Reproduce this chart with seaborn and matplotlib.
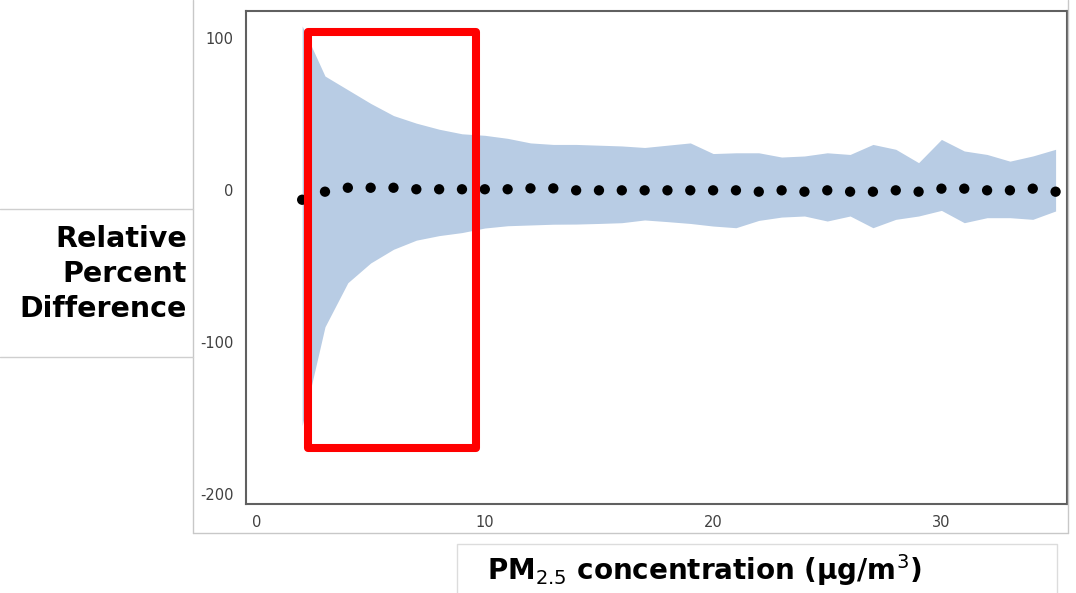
import numpy as np
import pandas as pd
import seaborn as sns
import matplotlib.pyplot as plt
from matplotlib.patches import Rectangle
from matplotlib.lines import Line2D

# PM2.5 concentration (ug/m3)
pm25 = list(range(2, 36))
# mean relative percent difference (black dots)
rpd_mean = [-6.4, -1.1, 1.5, 1.5, 1.5, 0.5, 0.5, 0.5, 0.5,
            0.5, 1.1, 1.1, -0.2, -0.2, -0.2, -0.2, -0.2, -0.2, -0.2,
            -0.2, -1.1, -0.2, -1.1, -0.2, -1.1, -1.1, -0.2, -1.1, 0.9,
            0.9, -0.2, -0.2, 0.9, -1.1, 0.9]
rpd_mean = rpd_mean[:len(pm25)]
# band limits
rpd_upper = [108, 75, 66, 57, 49, 44, 40, 37, 36, 34, 31, 30, 30, 29.5,
             29, 28, 29.5, 31, 24, 24.5, 24.5, 21.7, 22.4, 24.5, 23.4, 30,
             26.8, 18, 33.3, 25.7, 23.4, 19, 22.4, 26.8]
rpd_lower = [-155, -90, -61, -48, -39, -33, -30, -28, -25, -23.5, -23, -22.5,
             -22.4, -22, -21.5, -19.7, -20.8, -22, -23.7, -24.8, -20, -17.8,
             -17.1, -20.4, -17.1, -24.8, -19.3, -17.1, -13.4, -21.5, -18.2,
             -18.2, -19.3, -13.8]

x_ticks = [0, 10, 20, 30]
y_ticks = [-200, -100, 0, 100]

# highlight box (data coords)
BOX_X = (2.26, 9.6)
BOX_Y = (-170, 104)

df = pd.DataFrame({'pm25': pm25, 'rpd': rpd_mean, 'upper': rpd_upper, 'lower': rpd_lower})

sns.set_style('white')
plt.rcParams['axes.unicode_minus'] = False
plt.rcParams['mathtext.fontset'] = 'dejavusans'
W, H = 1076, 593
fig = plt.figure(figsize=(W / 100, H / 100), dpi=100)


def fx(px):
    return px / W


def fy(py):
    return 1 - py / H


ax = fig.add_axes([fx(246), fy(504), fx(1067) - fx(246), fy(11) - fy(504)])

ax.fill_between(df['pm25'], df['lower'], df['upper'], color='#b8cce4', linewidth=0, zorder=1)
sns.scatterplot(data=df, x='pm25', y='rpd', ax=ax, color='black', s=55,
                edgecolor='none', zorder=3)

ax.set_xlim(-0.46, 35.5)
ax.set_ylim(-206.6, 117.8)
ax.set_xticks(x_ticks)
ax.set_yticks(y_ticks)
ax.set_xlabel('')
ax.set_ylabel('')
for s in ax.spines.values():
    s.set_color('#606060')
    s.set_linewidth(1.5)
ax.tick_params(axis='both', direction='out', color='#606060', labelcolor='#404040',
               labelsize=10.5, width=1.2)
ax.tick_params(axis='x', length=5, pad=3)
ax.tick_params(axis='y', length=6, pad=3)
for lab in ax.get_xticklabels() + ax.get_yticklabels():
    lab.set_family('DejaVu Sans')

box = Rectangle((BOX_X[0], BOX_Y[0]), BOX_X[1] - BOX_X[0], BOX_Y[1] - BOX_Y[0],
                fill=False, edgecolor='#ff0000', linewidth=5.8, joinstyle='round',
                zorder=5, clip_on=False)
ax.add_patch(box)

# picture border
border = '#c8c8c8'
fig.add_artist(Line2D([fx(193), fx(193)], [fy(0), fy(533)], color=border, lw=1))
fig.add_artist(Line2D([fx(193), fx(1068)], [fy(533), fy(533)], color=border, lw=1))
fig.add_artist(Line2D([fx(1068), fx(1068)], [fy(0), fy(533)], color=border, lw=1))

# y label box
fig.add_artist(Rectangle((0, fy(357)), fx(195), fy(209) - fy(357),
                         facecolor='white', edgecolor='none'))
fig.add_artist(Line2D([0, fx(193)], [fy(209), fy(209)], color='#cfcfcf', lw=1))
fig.add_artist(Line2D([0, fx(193)], [fy(357), fy(357)], color='#cfcfcf', lw=1))
fig.text(fx(187), fy(274), 'Relative\nPercent\nDifference', ha='right', va='center',
         multialignment='right', fontsize=20.5, fontweight='bold', family='DejaVu Sans',
         linespacing=1.3, color='black')

# x label box
fig.add_artist(Rectangle((fx(457), fy(600)), fx(1057) - fx(457), fy(544) - fy(600),
                         facecolor='white', edgecolor='#dcdcdc', lw=1))
fig.text(fx(487), fy(580), r'PM$_{2.5}$ concentration (µg/m$^{3}$)', ha='left', va='baseline',
         fontsize=20, fontweight='bold', family='DejaVu Sans', color='black')

fig.savefig('out.png', dpi=100)
